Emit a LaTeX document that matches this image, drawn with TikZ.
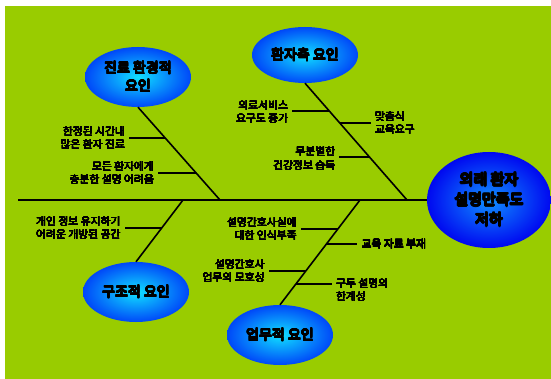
\documentclass[tikz,border=0pt]{standalone}
\usepackage{fontspec}
\usepackage[copies]{contour}
\setmainfont{Noto Sans CJK KR}
\usetikzlibrary{shapes.geometric,calc}
\definecolor{bg}{HTML}{99CC00}
\definecolor{cyanin}{HTML}{10E0FF}
\definecolor{blueout}{HTML}{0048F8}
\definecolor{effin}{HTML}{1090FF}
\definecolor{effout}{HTML}{0008F0}
\newcommand{\bc}[1]{\contourlength{0.45pt}\contour{black}{#1}}
\newcommand{\bbc}[1]{\contourlength{0.75pt}\contour{black}{#1}}
\newcommand{\lc}[1]{\contourlength{0.12pt}\contour{black}{#1}}
\tikzset{
  cause/.style={ellipse, inner sep=0pt, shading=radial, inner color=cyanin, outer color=blueout,
    font=\fontsize{14}{18}\selectfont, align=center, text=black},
  effect/.style={ellipse, inner sep=0pt, shading=radial, inner color=effin, outer color=effout,
    font=\fontsize{15}{20}\selectfont, align=center, text=black},
  bone/.style={line width=1.6pt, black},
  spine/.style={line width=2.6pt, black},
  sub/.style={line width=1.6pt, black},
  lblL/.style={anchor=east, align=right, inner sep=4pt, font=\fontsize{10.8}{13.5}\selectfont},
  lblR/.style={anchor=west, align=left, inner sep=4pt, font=\fontsize{10.8}{13.5}\selectfont},
}
\begin{document}
\begin{tikzpicture}[x=1pt,y=-1pt]
\useasboundingbox (0,0) rectangle (551,379);
\fill[white] (0,0) rectangle (551,379);
\fill[bg] (5,6) rectangle (551,379);
% effect and causes
\node[effect, minimum width=124pt, minimum height=96pt] (eff) at (489,200) {\bbc{외래 환자}\\\bbc{설명만족도}\\\bbc{저하}};
\node[cause, minimum width=106pt, minimum height=60pt] (env) at (138,77) {\bc{진료 환경적}\\\bc{요인}};
\node[cause, minimum width=106pt, minimum height=56pt] (pat) at (305,55) {\bc{환자측 요인}};
\node[cause, minimum width=106pt, minimum height=60pt] (str) at (136,292) {\bc{구조적 요인}};
\node[cause, minimum width=106pt, minimum height=60pt] (job) at (280,335) {\bc{업무적 요인}};
% spine
\coordinate (tail) at (18,200);
\coordinate (j1) at (220,200);
\coordinate (j2) at (407,200);
\coordinate (j3) at (183,200);
\coordinate (j4) at (360,200);
\draw[spine] (tail) -- (eff.west);
\draw[bone] (env.south) -- (j1);
\draw[bone] (pat.south) -- (j2);
\draw[bone] (str.north) -- (j3);
\draw[bone] (job.north) -- (j4);
% junctions on bones
\path (intersection of env.south--j1 and 0,138--1,138) coordinate (b1);
\path (intersection of env.south--j1 and 0,173--1,173) coordinate (b2);
\path (intersection of pat.south--j2 and 0,111--1,111) coordinate (b3);
\path (intersection of pat.south--j2 and 0,123--1,123) coordinate (b4);
\path (intersection of pat.south--j2 and 0,157--1,157) coordinate (b5);
\path (intersection of str.north--j3 and 0,228--1,228) coordinate (b6);
\path (intersection of job.north--j4 and 0,229--1,229) coordinate (b7);
\path (intersection of job.north--j4 and 0,244--1,244) coordinate (b8);
\path (intersection of job.north--j4 and 0,271--1,271) coordinate (b9);
\path (intersection of job.north--j4 and 0,284--1,284) coordinate (b10);
% labels
\node[lblL] (t1) at ($(b1)+(-36,0)$) {\lc{한정된 시간내}\\\lc{많은 환자 진료}};
\node[lblL] (t2) at ($(b2)+(-38,0)$) {\lc{모든 환자에게}\\\lc{충분한 설명 어려움}};
\node[lblL] (t3) at ($(b3)+(-37,1)$) {\lc{의료서비스}\\\lc{요구도 증가}};
\node[lblR] (t4) at ($(b4)+(31,0)$) {\lc{맞춤식}\\\lc{교육요구}};
\node[lblL] (t5) at ($(b5)+(-30,1.5)$) {\lc{무분별한}\\\lc{건강정보 습득}};
\node[lblL] (t6) at ($(b6)+(-37,0)$) {\lc{개인 정보 유지하기}\\\lc{어려운 개방된 공간}};
\node[lblL] (t7) at ($(b7)+(-37,0)$) {\lc{설명간호사실에}\\\lc{대한 인식부족}};
\node[lblR] (t8) at ($(b8)+(31,0)$) {\lc{교육 자료 부재}};
\node[lblL] (t9) at ($(b9)+(-37,0)$) {\lc{설명간호사}\\\lc{업무의 모호성}};
\node[lblR] (t10) at ($(b10)+(36,6)$) {\lc{구두 설명의}\\\lc{한계성}};
\draw[sub] (b1) -- (b1 -| t1.east);
\draw[sub] (b2) -- (b2 -| t2.east);
\draw[sub] (b3) -- (b3 -| t3.east);
\draw[sub] (b4) -- (b4 -| t4.west);
\draw[sub] (b5) -- (b5 -| t5.east);
\draw[sub] (b6) -- (b6 -| t6.east);
\draw[sub] (b7) -- (b7 -| t7.east);
\draw[sub] (b8) -- (b8 -| t8.west);
\draw[sub] (b9) -- (b9 -| t9.east);
\draw[sub] (b10) -- (b10 -| t10.west);
\end{tikzpicture}
\end{document}
